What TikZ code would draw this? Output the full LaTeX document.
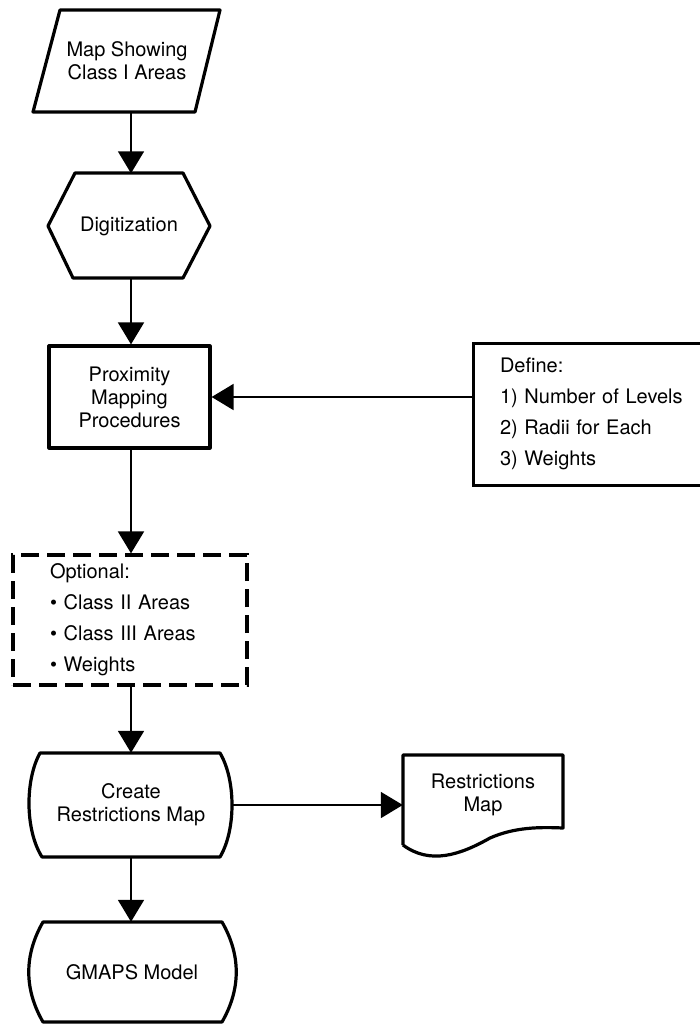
\documentclass[tikz,border=0pt]{standalone}
\usepackage{fontspec}
\setmainfont{TeX Gyre Heros}
\usetikzlibrary{arrows.meta}
\begin{document}
\begin{tikzpicture}[x=1pt,y=-1pt,
  lbl/.style={font=\fontsize{20}{23}\selectfont, align=center, inner sep=0pt},
  listtext/.style={font=\fontsize{20}{31}\selectfont, align=left},
  outline/.style={line width=3.2pt, line join=round},
  flow/.style={line width=1.8pt, -{Triangle[width=26pt,length=22pt]}},
]
\useasboundingbox (0,0) rectangle (700,1027);
\clip (0,0) rectangle (700,1027);

% vertical flow column
\coordinate (col) at (131,0);

% input map (parallelogram)
\node[lbl, minimum width=187pt, minimum height=102pt] (map) at (127,61) {Map Showing\\Class I Areas};
\draw[outline] (60,10) -- (220,10) -- (195,112) -- (33,112) -- cycle;

% digitization (hexagon)
\node[lbl, minimum width=162pt, minimum height=105pt] (digit) at (129,226) {Digitization};
\draw[outline] (75,173) -- (183,173) -- (210,226) -- (183,278) -- (73,278) -- (48,226) -- cycle;

% proximity mapping (process box)
\node[lbl, draw, outline, minimum width=161pt, minimum height=102pt] (prox) at (129.5,397)
  {Proximity\\Mapping\\Procedures};

% parameter definitions (box runs off the right edge)
\node[listtext, draw, line width=3pt, inner xsep=27pt, text width=190pt,
      minimum height=142pt] (define) at (595,414)
  {Define:\\1) Number of Levels\\2) Radii for Each\\3) Weights};

% optional inputs (dashed box)
\node[listtext, draw, line width=3.2pt, dash pattern=on 18pt off 8pt,
      inner xsep=37pt, text width=160pt, minimum height=130pt] (opt) at (130,620)
  {Optional:\\\textbullet\ Class II Areas\\\textbullet\ Class III Areas\\\textbullet\ Weights};

% create restrictions map
\node[lbl, minimum width=202pt, minimum height=104pt] (create) at (131,805) {Create\\Restrictions Map};
\draw[outline] (40,753) -- (220,753)
  .. controls (236,780) and (236,830) .. (220,857) -- (42,857)
  .. controls (25,830) and (25,780) .. (40,753) -- cycle;

% output document
\node[lbl, minimum width=160pt, minimum height=80pt] (doc) at (483,795) {Restrictions\\Map};
\draw[outline] (403,845) -- (403,755) -- (563,755) -- (563,828)
  .. controls (540,827) and (515,827) .. (490,838)
  .. controls (460,855) and (430,865) .. (403,845);

% GMAPS model
\node[lbl, minimum width=205pt, minimum height=100pt] (gmaps) at (132,972) {GMAPS Model};
\draw[outline] (43,922) -- (222,922)
  .. controls (241,955) and (241,989) .. (222,1022) -- (43,1022)
  .. controls (24,989) and (24,955) .. (43,922) -- cycle;

% connectors
\draw[flow] (map.south -| col) -- (digit.north -| col);
\draw[flow] (digit.south -| col) -- (prox.north -| col);
\draw[flow] (prox.east -| define.west) -- (prox.east);
\draw[flow] (prox.south -| col) -- (opt.north -| col);
\draw[flow] (opt.south -| col) -- (create.north -| col);
\draw[flow] (create.east) -- (create.east -| doc.west);
\draw[flow] (create.south -| col) -- (gmaps.north -| col);
\end{tikzpicture}
\end{document}
